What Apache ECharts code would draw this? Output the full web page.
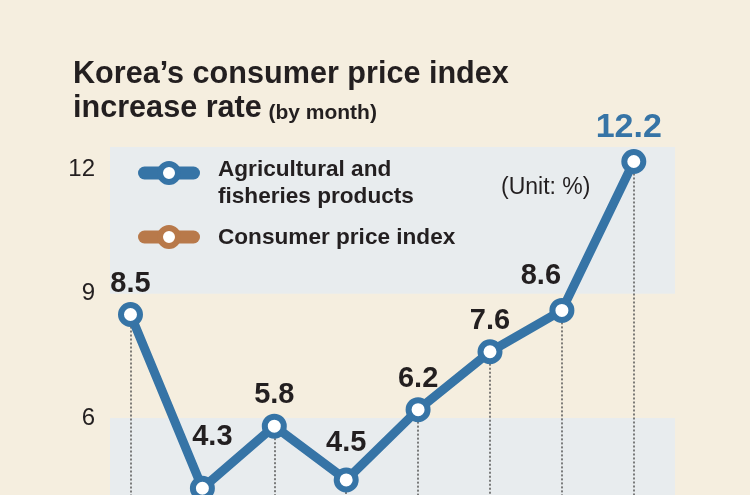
<!DOCTYPE html>
<html><head><meta charset="utf-8">
<script src="https://cdn.jsdelivr.net/npm/echarts@6/dist/echarts.min.js"></script>
<style>html,body{margin:0;padding:0;background:#f5eedf;overflow:hidden}#c{width:750px;height:570px}</style>
</head><body><div id="c"></div>
<script>
// ---- data ----
const months = ['M1', 'M2', 'M3', 'M4', 'M5', 'M6', 'M7', 'M8'];
const agriValues = [8.5, 4.3, 5.8, 4.5, 6.2, 7.6, 8.6, 12.2];
const yTicks = [6, 9, 12];
const seriesNames = ['Agricultural and\nfisheries products', 'Consumer price index'];
const titleLine1 = 'Korea’s consumer price index';
const titleLine2 = 'increase rate';
const titleSub = '(by month)';
const unitLabel = '(Unit: %)';

// ---- styles ----
const FONT = '"Liberation Sans", Arial, Helvetica, sans-serif';
const BLUE = '#3674a6';
const BROWN = '#b8794a';
const INK = '#231f20';
const BAND = '#e8ecee';
const labelNudge = {1: [10, -20], 3: [0, -6], 6: [-21, -3], 7: [-5, 0]};

const chart = echarts.init(document.getElementById('c'), null, {renderer: 'canvas'});

const points = agriValues.map((v, i) => {
  const last = i === agriValues.length - 1;
  return {
    name: months[i],
    value: [i, v],
    label: {
      offset: labelNudge[i] || [0, 0],
      fontSize: last ? 34 : 29,
      color: last ? BLUE : INK
    }
  };
});

function legendMarker(cy, color) {
  return [
    {type: 'rect', shape: {x: 138, y: cy - 6.5, width: 62, height: 13, r: 6.5}, style: {fill: color}, z: 10},
    {type: 'circle', shape: {cx: 169, cy: cy, r: 9}, style: {fill: '#fff', stroke: color, lineWidth: 6}, z: 11}
  ];
}

const option = {
  backgroundColor: '#f5eedf',
  animation: false,
  grid: {left: 110, top: 147, width: 565, height: 395},
  xAxis: {type: 'value', min: -0.285, max: 7.573, show: false},
  yAxis: {
    type: 'value', min: 3, max: 12.55, interval: 3,
    axisLine: {show: false}, axisTick: {show: false}, splitLine: {show: false},
    axisLabel: {
      formatter: v => (yTicks.indexOf(v) >= 0 ? String(v) : ''),
      fontSize: 24, color: INK, margin: 15, fontFamily: FONT,
      padding: [5, 0, 0, 0]
    }
  },
  series: [
    {
      name: seriesNames[0],
      type: 'line',
      data: points,
      z: 3,
      lineStyle: {color: BLUE, width: 9},
      symbol: 'circle',
      symbolSize: 19,
      itemStyle: {color: '#fff', borderColor: BLUE, borderWidth: 6},
      label: {
        show: true, position: 'top', distance: 4,
        fontFamily: FONT, fontWeight: 'bold',
        formatter: p => p.value[1].toFixed(1)
      },
      markArea: {
        silent: true, z: 0,
        itemStyle: {color: BAND},
        data: [
          [{yAxis: 3}, {yAxis: 6}],
          [{yAxis: 9}, {yAxis: 12.55}]
        ]
      },
      markLine: {
        silent: true, z: 1,
        symbol: ['none', 'none'],
        label: {show: false},
        lineStyle: {type: [2, 2], color: '#555', width: 1.5},
        data: agriValues.map((v, i) => [{coord: [i, v]}, {coord: [i, 3]}])
      }
    },
    {
      name: seriesNames[1],
      type: 'line',
      data: [],
      lineStyle: {color: BROWN}
    }
  ],
  graphic: [
    {type: 'text', x: 73, y: 59, style: {text: titleLine1, fontFamily: FONT, fontSize: 30.6, fontWeight: 'bold', fill: INK, verticalAlign: 'top'}},
    {type: 'text', x: 73, y: 90, style: {
      text: '{a|' + titleLine2 + '}  {b|' + titleSub + '}',
      fontFamily: FONT, verticalAlign: 'top',
      rich: {
        a: {fontFamily: FONT, fontSize: 30.6, fontWeight: 'bold', fill: INK, verticalAlign: 'bottom', lineHeight: 34},
        b: {fontFamily: FONT, fontSize: 21, fontWeight: 'bold', fill: INK, verticalAlign: 'bottom', lineHeight: 30}
      }
    }},
    ...legendMarker(173, BLUE),
    ...legendMarker(237, BROWN),
    {type: 'text', x: 218, y: 156, z: 10, style: {text: seriesNames[0], fontFamily: FONT, fontSize: 22.6, fontWeight: 'bold', fill: INK, lineHeight: 27, verticalAlign: 'top'}},
    {type: 'text', x: 218, y: 238, z: 10, style: {text: seriesNames[1], fontFamily: FONT, fontSize: 22.6, fontWeight: 'bold', fill: INK, verticalAlign: 'middle'}},
    {type: 'text', x: 501, y: 188, z: 10, style: {text: unitLabel, fontFamily: FONT, fontSize: 23, fill: INK, verticalAlign: 'middle'}}
  ]
};
chart.setOption(option);
</script>
</body></html>
